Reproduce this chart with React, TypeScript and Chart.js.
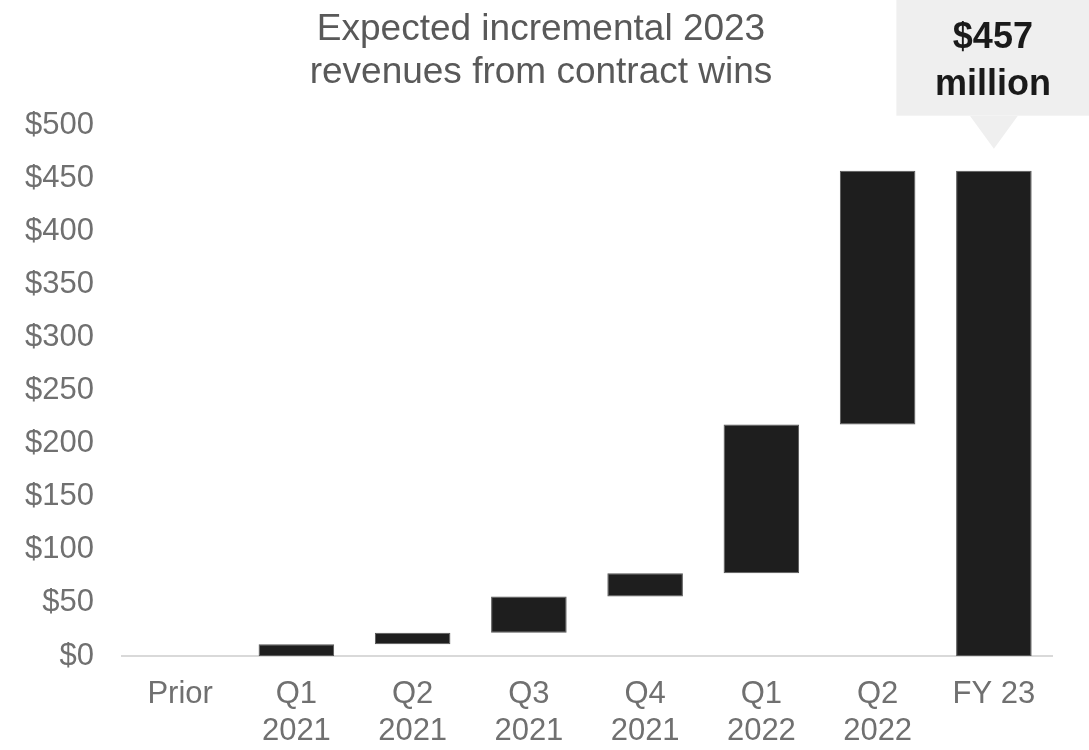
import React, { useEffect, useRef } from "react";
import { Chart, registerables } from "chart.js";

Chart.register(...registerables);

// ---- data ----
const categories: (string | string[])[] = [
  "Prior",
  ["Q1", "2021"],
  ["Q2", "2021"],
  ["Q3", "2021"],
  ["Q4", "2021"],
  ["Q1", "2022"],
  ["Q2", "2022"],
  "FY 23",
];
// incremental revenue added in each period ($ millions)
const increments = [0, 11, 11, 34, 22, 140, 239];
const yMin = 0;
const yMax = 500;
const yStep = 50;
const titleLines = ["Expected incremental 2023", "revenues from contract wins"];
const calloutUnit = "million";

const FONT = "'Liberation Sans', Arial, Helvetica, sans-serif";

function buildRanges(): ([number, number] | null)[] {
  const out: ([number, number] | null)[] = [];
  let run = 0;
  for (const inc of increments) {
    if (inc === 0) {
      out.push(null);
    } else {
      out.push([run, run + inc]);
      run += inc;
    }
  }
  out.push([0, run]);
  return out;
}

export default function App() {
  const ref = useRef<HTMLCanvasElement | null>(null);

  useEffect(() => {
    if (!ref.current) return;
    const ranges = buildRanges();
    const total = ranges[ranges.length - 1]![1];

    const overlay = {
      id: "overlay",
      afterDraw(chart: any) {
        const ctx = chart.ctx as CanvasRenderingContext2D;
        ctx.save();
        // title
        ctx.fillStyle = "#595959";
        ctx.font = `37px ${FONT}`;
        ctx.textAlign = "center";
        ctx.textBaseline = "alphabetic";
        ctx.fillText(titleLines[0], 541, 40);
        ctx.fillText(titleLines[1], 541, 83);

        // callout above total bar
        const meta = chart.getDatasetMeta(0);
        const bar = meta.data[meta.data.length - 1] as any;
        const cx = bar.x;
        const tipY = bar.y - 22;
        const boxBottom = tipY - 33;
        const boxLeft = cx - 97.5;
        ctx.fillStyle = "#efefef";
        ctx.fillRect(boxLeft, 0, chart.width - boxLeft, boxBottom);
        ctx.beginPath();
        ctx.moveTo(cx - 24, boxBottom);
        ctx.lineTo(cx + 24, boxBottom);
        ctx.lineTo(cx, tipY);
        ctx.closePath();
        ctx.fill();

        ctx.fillStyle = "#1a1a1a";
        ctx.font = `bold 36px ${FONT}`;
        ctx.textAlign = "center";
        ctx.fillText("$" + Math.round(total), cx - 1, 48);
        ctx.fillText(calloutUnit, cx - 1, 95);
        ctx.restore();
      },
    };

    const chart = new Chart(ref.current, {
      type: "bar",
      data: {
        labels: categories,
        datasets: [
          {
            data: ranges as any,
            backgroundColor: "#1e1e1e",
            borderColor: "#555555",
            borderWidth: 1,
            borderSkipped: false,
            barPercentage: 0.65,
            categoryPercentage: 1,
          },
        ],
      },
      options: {
        responsive: false,
        animation: false,
        layout: { padding: { top: 125, right: 37, left: 0, bottom: 0 } },
        plugins: {
          legend: { display: false },
          title: { display: false },
          tooltip: { enabled: false },
        },
        scales: {
          x: {
            grid: { display: false, drawTicks: false },
            border: { display: true, color: "#d9d9d9", width: 2 },
            ticks: {
              color: "#707070",
              font: { family: FONT, size: 31 },
              padding: 20,
              maxRotation: 0,
              autoSkip: false,
            },
            afterFit: (s: any) => {
              s.height = 94;
            },
          },
          y: {
            min: yMin,
            max: yMax,
            grid: { display: false, drawTicks: false },
            border: { display: false },
            ticks: {
              stepSize: yStep,
              color: "#707070",
              font: { family: FONT, size: 31 },
              padding: 28,
              callback: (v: any) => "$" + v,
            },
            afterFit: (s: any) => {
              s.width = 122;
            },
          },
        },
      },
      plugins: [overlay],
    });
    return () => chart.destroy();
  }, []);

  return (
    <div style={{ position: "fixed", left: 0, top: 0, width: 1089, height: 750, background: "#fff" }}>
      <canvas ref={ref} width={1089} height={750} style={{ display: "block" }} />
    </div>
  );
}
